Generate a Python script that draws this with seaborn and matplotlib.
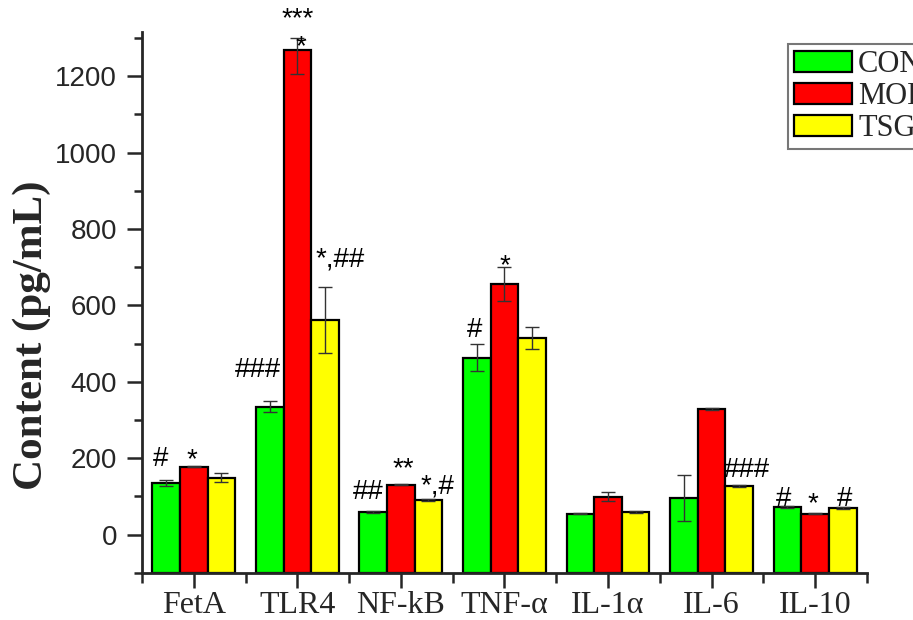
import numpy as np
import pandas as pd
import matplotlib
matplotlib.use("Agg")
import matplotlib.pyplot as plt
import seaborn as sns
from matplotlib.ticker import MultipleLocator, FixedLocator

# Data
markers = ['FetA', 'TLR4', 'NF-kB', 'TNF-α', 'IL-1α', 'IL-6', 'IL-10']
groups = ['CON', 'MOD', 'TSG']
con_vals = [136, 335, 60, 463, 55, 97, 73]
mod_vals = [178, 1268, 131, 656, 99, 329, 55]
tsg_vals = [149, 562, 91, 515, 60, 128, 70]
con_err = [8, 15, 2, 35, 2, 60, 2]
mod_err_lo = [2, 63, 2, 45, 12, 2, 2]
mod_err_hi = [2, 32, 2, 45, 12, 2, 2]
tsg_err = [12, 87, 3, 28, 2, 2, 2]

# significance marks: (marker index, group index, text, x offset, baseline y)
sig_marks = [
    (0, 0, '#', -0.05, 180),
    (0, 1, '*', -0.02, 177),
    (1, 0, '###', -0.11, 413),
    (1, 1, '***', 0.0, 1332),
    (1, 1, '*', 0.03, 1258),
    (1, 2, '*,##', 0.145, 701),
    (2, 0, '##', -0.05, 94),
    (2, 1, '**', 0.02, 154),
    (2, 2, '*,#', 0.087, 108),
    (3, 0, '#', -0.02, 518),
    (3, 1, '*', 0.0, 684),
    (5, 2, '###', 0.077, 150),
    (6, 0, '#', -0.04, 76),
    (6, 1, '*', -0.02, 62),
    (6, 2, '#', 0.02, 76),
]

colors = ['#00FF00', '#FF0000', '#FFFF00']
y_floor = -100

df = pd.DataFrame({
    'marker': markers * 3,
    'group': [g for g in groups for _ in markers],
    'value': con_vals + mod_vals + tsg_vals,
})

sns.set_style('ticks')
plt.rcParams['font.family'] = ['Liberation Sans', 'DejaVu Sans']

fig = plt.figure(figsize=(9.13, 6.2), dpi=100)
ax = fig.add_axes([0.1555, 0.076, 0.794, 0.872])

sns.barplot(data=df, x='marker', y='value', hue='group', order=markers,
            hue_order=groups, palette=colors, saturation=1, edgecolor='black',
            linewidth=1.6, width=0.8, errorbar=None, ax=ax, legend=True)

errs = [
    (np.array(con_err), np.array(con_err)),
    (np.array(mod_err_lo), np.array(mod_err_hi)),
    (np.array(tsg_err), np.array(tsg_err)),
]
vals = [con_vals, mod_vals, tsg_vals]
bar_conts = list(ax.containers)[:3]
centers = []
for gi, cont in enumerate(bar_conts):
    # bars in the original run down to the axis floor, not to zero
    for b, v in zip(cont, vals[gi]):
        b.set_y(y_floor)
        b.set_height(v - y_floor)
    xs = [b.get_x() + b.get_width() / 2 for b in cont]
    centers.append(xs)
    ax.errorbar(xs, vals[gi], yerr=[errs[gi][0], errs[gi][1]], fmt='none',
                ecolor='#333333', elinewidth=1.0, capsize=5, capthick=1.0,
                zorder=3)

for mi, gi, txt, dx, yv in sig_marks:
    ax.text(centers[gi][mi] + dx, yv, txt, ha='center', va='baseline',
            fontsize=20, color='black', zorder=4, clip_on=False)

ax.set_xlim(-0.5, 6.5)
ax.set_ylim(y_floor, 1315)
ax.yaxis.set_major_locator(MultipleLocator(200))
ax.yaxis.set_minor_locator(MultipleLocator(100))
ax.xaxis.set_minor_locator(FixedLocator(np.arange(-0.5, 7, 1.0)))
ax.set_yticks(np.arange(0, 1201, 200))

ax.tick_params(axis='y', which='major', direction='out', length=11, width=1.8,
               labelsize=20, pad=7)
ax.tick_params(axis='y', which='minor', direction='out', length=6, width=1.8)
ax.tick_params(axis='x', which='major', direction='out', length=11, width=1.8,
               pad=2)
ax.tick_params(axis='x', which='minor', direction='out', length=7, width=1.8)

for lab in ax.get_xticklabels():
    lab.set_fontfamily('Liberation Serif')
    lab.set_fontsize(23)

sns.despine(ax=ax)
ax.spines['left'].set_linewidth(2)
ax.spines['bottom'].set_linewidth(2)

ax.set_xlabel('')
ax.set_ylabel('Content (pg/mL)', fontfamily='Liberation Serif',
              fontweight='bold', fontsize=31)
ax.yaxis.set_label_coords(-0.125, 0.44)

# legend sits partly outside the canvas, as in the original crop
handles, labels = ax.get_legend_handles_labels()
ax.legend(handles, ['CON', 'MOD', 'TSG'], loc='upper left',
          bbox_to_anchor=(0.863, 0.929), bbox_transform=fig.transFigure,
          prop={'family': 'Liberation Serif', 'size': 22}, frameon=True,
          fancybox=False, edgecolor='#777777', framealpha=1,
          handlelength=1.9, handleheight=0.7, labelspacing=0.1,
          handletextpad=0.2, borderpad=0.2, borderaxespad=0)
ax.get_legend().get_frame().set_linewidth(1.5)
for h in ax.get_legend().get_patches():
    h.set_edgecolor('black')
    h.set_linewidth(1.6)

fig.savefig('out.png', dpi=100)
